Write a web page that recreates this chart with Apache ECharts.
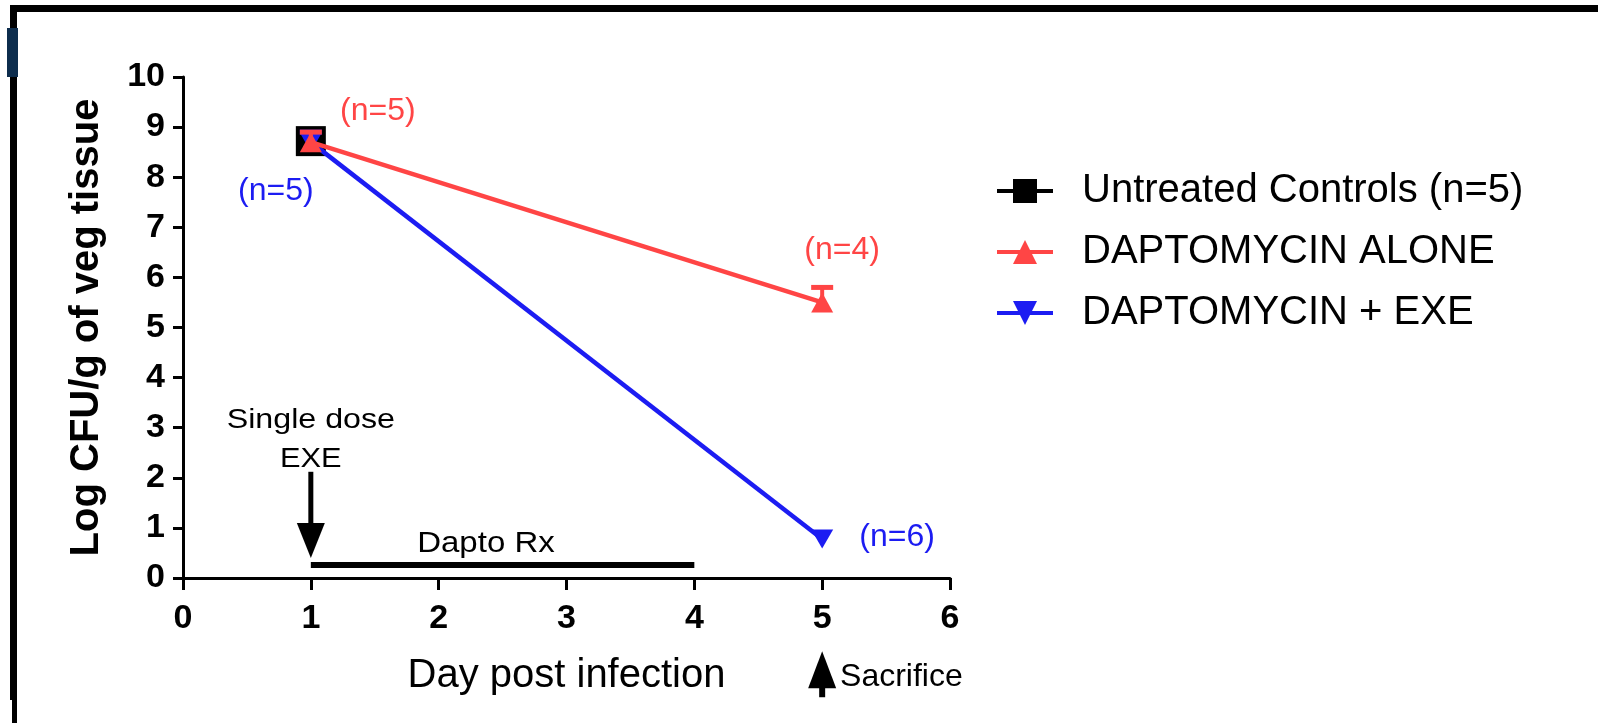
<!DOCTYPE html>
<html>
<head>
<meta charset="utf-8">
<script src="https://cdn.jsdelivr.net/npm/echarts@6/dist/echarts.min.js"></script>
<style>
  html, body { margin: 0; padding: 0; background: #ffffff; }
  #chart { width: 1598px; height: 723px; }
</style>
</head>
<body>
<div id="chart"></div>
<script>
// ---- Data ----------------------------------------------------------------
const seriesNames = ['Untreated Controls (n=5)', 'DAPTOMYCIN ALONE', 'DAPTOMYCIN + EXE'];

// Untreated controls: only sampled on day 1
const controlDays = [1];
const controlMean = [8.72];
const controlSd = [0.12];

// Daptomycin alone
const daptoDays = [1, 5];
const daptoMean = [8.70, 5.50];
const daptoSd = [0.20, 0.30];
const daptoN = [5, 4];

// Daptomycin + EXE
const exeDays = [1, 5];
const exeMean = [8.70, 0.78];
const exeSd = [0.20, 0.00];
const exeN = [5, 6];

// Treatment window and event days
const doseDay = 1;
const dosingWindow = [1, 4];
const sacrificeDay = 5;

const xTicks = [0, 1, 2, 3, 4, 5, 6];
const yTicks = [0, 1, 2, 3, 4, 5, 6, 7, 8, 9, 10];

// ---- Styling -------------------------------------------------------------
const FONT = '"Liberation Sans", Arial, Helvetica, sans-serif';
const RED = '#ff4545';
const BLUE = '#1c1cf2';
const BLACK = '#000000';

const zip = (xs, ys) => xs.map((x, i) => [x, ys[i]]);
const zip3 = (xs, ys, zs) => xs.map((x, i) => [x, ys[i], zs[i]]);

// upward-only whiskers with a cap, drawn in axis coordinates
function whiskers(color, capHalf, z) {
  return {
    type: 'custom',
    z: z,
    silent: true,
    renderItem: function (params, api) {
      const x = api.value(0), m = api.value(1), s = api.value(2);
      if (!s) return null;
      const p0 = api.coord([x, m]);
      const p1 = api.coord([x, m + s]);
      return {
        type: 'group',
        children: [
          { type: 'line', shape: { x1: p0[0], y1: p0[1], x2: p1[0], y2: p1[1] },
            style: { stroke: color, lineWidth: 4 } },
          { type: 'line', shape: { x1: p1[0] - capHalf, y1: p1[1], x2: p1[0] + capHalf, y2: p1[1] },
            style: { stroke: color, lineWidth: 5 } }
        ]
      };
    },
    encode: { x: 0, y: 1 },
    data: []
  };
}

// sample-size labels placed next to their points (pixel offsets)
const daptoLabelOffsets = [[67, -31], [20, -52]];
const exeLabelOffsets = [[-35, 49], [75, -2]];

function withNLabels(days, means, ns, offsets, color) {
  return days.map((d, i) => ({
    value: [d, means[i]],
    label: {
      show: true,
      formatter: '(n=' + ns[i] + ')',
      position: 'inside',
      offset: offsets[i],
      color: color,
      fontFamily: FONT,
      fontSize: 32
    }
  }));
}

const ctrlErr = whiskers(BLACK, 11, 2);
ctrlErr.data = zip3(controlDays, controlMean, controlSd);
const exeErr = whiskers(BLUE, 11, 3);
exeErr.data = zip3(exeDays, exeMean, exeSd);
const daptoErr = whiskers(RED, 11, 4);
daptoErr.data = zip3(daptoDays, daptoMean, daptoSd);

const option = {
  backgroundColor: '#ffffff',
  animation: false,
  grid: { left: 183, right: 648, top: 77, bottom: 145, containLabel: false },
  xAxis: {
    type: 'value',
    min: 0, max: 6, interval: 1,
    name: 'Day post infection',
    nameLocation: 'middle',
    nameGap: 78,
    nameTextStyle: { fontFamily: FONT, fontSize: 40, color: BLACK },
    axisLine: { show: true, onZero: false, lineStyle: { color: BLACK, width: 3 } },
    axisTick: { show: true, length: 12, lineStyle: { color: BLACK, width: 3 } },
    axisLabel: {
      fontFamily: FONT, fontSize: 34, fontWeight: 'bold', color: BLACK, margin: 24,
      formatter: v => (xTicks.indexOf(v) >= 0 ? String(v) : '')
    },
    splitLine: { show: false }
  },
  yAxis: {
    type: 'value',
    min: 0, max: 10, interval: 1,
    name: 'Log CFU/g of veg tissue',
    nameLocation: 'middle',
    nameGap: 76,
    nameTextStyle: { fontFamily: FONT, fontSize: 40, fontWeight: 'bold', color: BLACK },
    axisLine: { show: true, onZero: false, lineStyle: { color: BLACK, width: 3 } },
    axisTick: { show: true, length: 10, lineStyle: { color: BLACK, width: 3 } },
    axisLabel: {
      fontFamily: FONT, fontSize: 34, fontWeight: 'bold', color: BLACK, margin: 18,
      formatter: v => (yTicks.indexOf(v) >= 0 ? String(v) : '')
    },
    splitLine: { show: false }
  },
  legend: {
    data: seriesNames,
    orient: 'vertical',
    left: 990,
    top: 164,
    itemWidth: 56,
    itemHeight: 30,
    itemGap: 17,
    selectedMode: false,
    lineStyle: { width: 4 },
    textStyle: { fontFamily: FONT, fontSize: 40, color: BLACK, lineHeight: 44, padding: [0, 0, 0, 24] }
  },
  series: [
    {
      name: seriesNames[0],
      type: 'line',
      z: 2,
      data: zip(controlDays, controlMean),
      symbol: 'rect',
      symbolSize: 30,
      itemStyle: { color: BLACK },
      lineStyle: { color: BLACK, width: 4 }
    },
    ctrlErr,
    exeErr,
    {
      name: seriesNames[2],
      type: 'line',
      z: 3,
      data: withNLabels(exeDays, exeMean, exeN, exeLabelOffsets, BLUE),
      symbol: 'triangle',
      symbolRotate: 180,
      symbolSize: [22, 19],
      itemStyle: { color: BLUE },
      lineStyle: { color: BLUE, width: 4.5 }
    },
    daptoErr,
    {
      name: seriesNames[1],
      type: 'line',
      z: 4,
      data: withNLabels(daptoDays, daptoMean, daptoN, daptoLabelOffsets, RED),
      symbol: 'triangle',
      symbolSize: [22, 20],
      itemStyle: { color: RED },
      lineStyle: { color: RED, width: 4.5 }
    }
  ]
};

const chart = echarts.init(document.getElementById('chart'), null, { renderer: 'canvas' });
chart.setOption(option);

// ---- Annotations: dosing arrow, treatment bar, sacrifice marker ----------
const px = (x, y) => chart.convertToPixel({ gridIndex: 0 }, [x, y]);

function downArrow(x, yTop, yTip, headW, headH) {
  const top = px(x, yTop), tip = px(x, yTip);
  return [
    { type: 'line', shape: { x1: top[0], y1: top[1], x2: tip[0], y2: tip[1] - headH + 2 },
      style: { stroke: BLACK, lineWidth: 5 }, z: 10 },
    { type: 'polygon', shape: { points: [[tip[0] - headW / 2, tip[1] - headH], [tip[0] + headW / 2, tip[1] - headH], [tip[0], tip[1]]] },
      style: { fill: BLACK }, z: 10 }
  ];
}
function upArrow(x, yTip, yBottom, headW, headH) {
  const tip = px(x, yTip), bot = px(x, yBottom);
  return [
    { type: 'line', shape: { x1: bot[0], y1: bot[1], x2: tip[0], y2: tip[1] + headH - 2 },
      style: { stroke: BLACK, lineWidth: 6 }, z: 10 },
    { type: 'polygon', shape: { points: [[tip[0] - headW / 2, tip[1] + headH], [tip[0] + headW / 2, tip[1] + headH], [tip[0], tip[1]]] },
      style: { fill: BLACK }, z: 10 }
  ];
}
function note(text, x, y, size, opts, align) {
  const p = px(x, y);
  return Object.assign({
    type: 'text', x: p[0], y: p[1], z: 10,
    style: { text: text, fontFamily: FONT, fontSize: size, fill: BLACK, align: align || 'center', verticalAlign: 'middle' }
  }, opts || {});
}

const barA = px(dosingWindow[0], 0.26), barB = px(dosingWindow[1], 0.26);

const graphics = [
  // outer frame
  { type: 'rect', shape: { x: 10, y: 5, width: 1588, height: 7 }, style: { fill: BLACK }, z: 20 },
  { type: 'rect', shape: { x: 10, y: 5, width: 7, height: 695 }, style: { fill: BLACK }, z: 20 },
  { type: 'rect', shape: { x: 12, y: 700, width: 5, height: 23 }, style: { fill: BLACK }, z: 20 },
  { type: 'rect', shape: { x: 7, y: 28, width: 11, height: 49 }, style: { fill: '#0d2d4d' }, z: 21 },

  note('Single dose', doseDay, 3.15, 28, { scaleX: 1.15 }),
  note('EXE', doseDay, 2.37, 28, { scaleX: 1.1 }),
  ...downArrow(doseDay, 2.12, 0.40, 28, 35),
  { type: 'line', shape: { x1: barA[0], y1: barA[1], x2: barB[0], y2: barB[1] },
    style: { stroke: BLACK, lineWidth: 6 }, z: 10 },
  note('Dapto Rx', 2.37, 0.68, 30, { scaleX: 1.1 }),
  ...upArrow(sacrificeDay, -1.46, -2.38, 28, 37),
  note('Sacrifice', 5.14, -1.98, 32, null, 'left')
];

chart.setOption({ graphic: graphics });
</script>
</body>
</html>
